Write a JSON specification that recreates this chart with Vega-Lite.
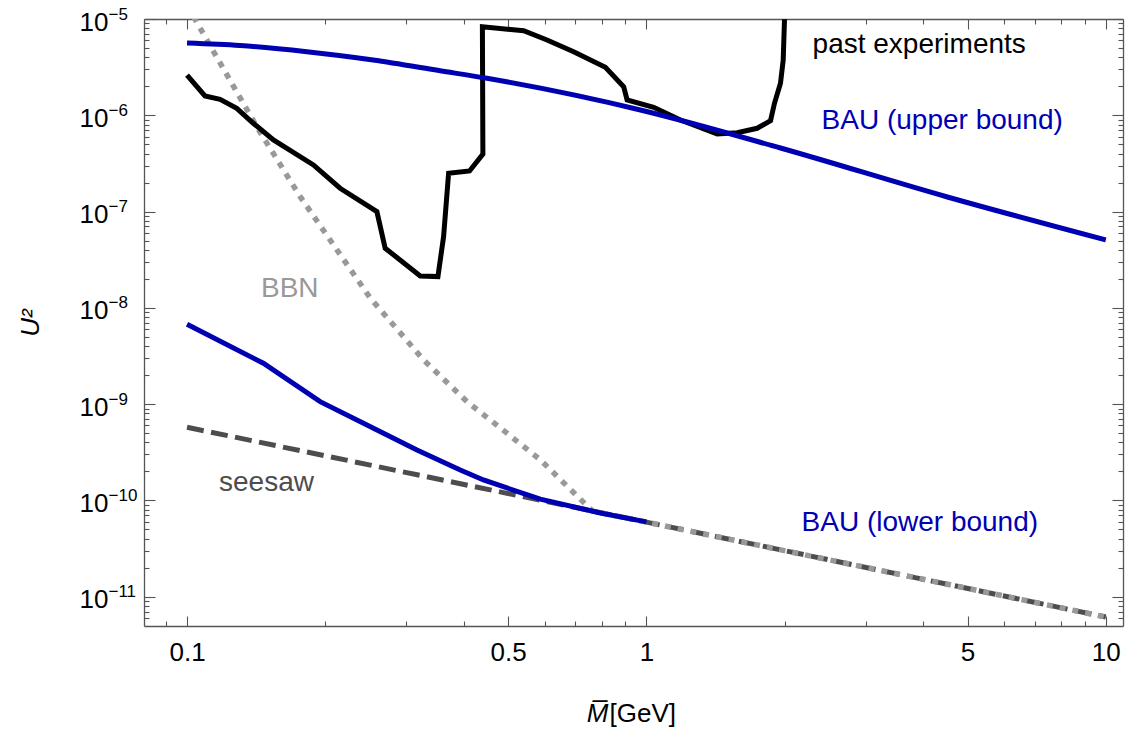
{
  "$schema": "https://vega.github.io/schema/vega-lite/v6.json",
  "width": 979,
  "height": 607,
  "autosize": "none",
  "padding": {"left": 144, "top": 19, "right": 2, "bottom": 105},
  "background": "white",
  "config": {
    "view": {"stroke": null},
    "font": "Liberation Sans",
    "axis": {
      "grid": false,
      "domainColor": "#555555",
      "tickColor": "#555555",
      "domainWidth": 1.3,
      "tickWidth": 1.1,
      "labelFont": "Liberation Sans",
      "titleFont": "Liberation Sans",
      "labelColor": "#000000",
      "titleColor": "#000000",
      "labelFontSize": 26,
      "titleFontSize": 26,
      "titleFontWeight": "normal"
    }
  },
  "datasets": {
    "curves": [
      {"series": "past", "i": 1, "M": 0.1, "U2": 2.62e-6},
      {"series": "past", "i": 2, "M": 0.1094, "U2": 1.587e-6},
      {"series": "past", "i": 3, "M": 0.118, "U2": 1.466e-6},
      {"series": "past", "i": 4, "M": 0.1283, "U2": 1.182e-6},
      {"series": "past", "i": 5, "M": 0.1394, "U2": 8.26e-7},
      {"series": "past", "i": 6, "M": 0.1542, "U2": 5.54e-7},
      {"series": "past", "i": 7, "M": 0.1884, "U2": 3.05e-7},
      {"series": "past", "i": 8, "M": 0.2154, "U2": 1.746e-7},
      {"series": "past", "i": 9, "M": 0.259, "U2": 9.98e-8},
      {"series": "past", "i": 10, "M": 0.27, "U2": 4.16e-8},
      {"series": "past", "i": 11, "M": 0.3219, "U2": 2.145e-8},
      {"series": "past", "i": 12, "M": 0.3517, "U2": 2.11e-8},
      {"series": "past", "i": 13, "M": 0.3618, "U2": 5.49e-8},
      {"series": "past", "i": 14, "M": 0.371, "U2": 2.5e-7},
      {"series": "past", "i": 15, "M": 0.4121, "U2": 2.64e-7},
      {"series": "past", "i": 16, "M": 0.4406, "U2": 3.96e-7},
      {"series": "past", "i": 17, "M": 0.4395, "U2": 8.3e-6},
      {"series": "past", "i": 18, "M": 0.5405, "U2": 7.56e-6},
      {"series": "past", "i": 19, "M": 0.6076, "U2": 6.05e-6},
      {"series": "past", "i": 20, "M": 0.6944, "U2": 4.57e-6},
      {"series": "past", "i": 21, "M": 0.8141, "U2": 3.15e-6},
      {"series": "past", "i": 22, "M": 0.8923, "U2": 1.98e-6},
      {"series": "past", "i": 23, "M": 0.9077, "U2": 1.442e-6},
      {"series": "past", "i": 24, "M": 1.037, "U2": 1.211e-6},
      {"series": "past", "i": 25, "M": 1.186, "U2": 8.94e-7},
      {"series": "past", "i": 26, "M": 1.426, "U2": 6.39e-7},
      {"series": "past", "i": 27, "M": 1.576, "U2": 6.6e-7},
      {"series": "past", "i": 28, "M": 1.742, "U2": 7.33e-7},
      {"series": "past", "i": 29, "M": 1.863, "U2": 8.79e-7},
      {"series": "past", "i": 30, "M": 1.9, "U2": 1.332e-6},
      {"series": "past", "i": 31, "M": 1.958, "U2": 2.15e-6},
      {"series": "past", "i": 32, "M": 1.985, "U2": 3.75e-6},
      {"series": "past", "i": 33, "M": 1.998, "U2": 9.93e-6},

      {"series": "upper", "i": 1, "M": 0.1, "U2": 5.62e-6},
      {"series": "upper", "i": 2, "M": 0.1304, "U2": 5.3e-6},
      {"series": "upper", "i": 3, "M": 0.1823, "U2": 4.57e-6},
      {"series": "upper", "i": 4, "M": 0.2542, "U2": 3.75e-6},
      {"series": "upper", "i": 5, "M": 0.3557, "U2": 2.9e-6},
      {"series": "upper", "i": 6, "M": 0.4497, "U2": 2.42e-6},
      {"series": "upper", "i": 7, "M": 0.9703, "U2": 1.135e-6},
      {"series": "upper", "i": 8, "M": 1.958, "U2": 4.575e-7},
      {"series": "upper", "i": 9, "M": 4.52, "U2": 1.417e-7},
      {"series": "upper", "i": 10, "M": 10, "U2": 5.07e-8},

      {"series": "lower", "i": 1, "M": 0.1, "U2": 6.76e-9},
      {"series": "lower", "i": 2, "M": 0.1466, "U2": 2.66e-9},
      {"series": "lower", "i": 3, "M": 0.1949, "U2": 1.061e-9},
      {"series": "lower", "i": 4, "M": 0.2546, "U2": 5.62e-10},
      {"series": "lower", "i": 5, "M": 0.3166, "U2": 3.34e-10},
      {"series": "lower", "i": 6, "M": 0.3934, "U2": 2.07e-10},
      {"series": "lower", "i": 7, "M": 0.4419, "U2": 1.63e-10},
      {"series": "lower", "i": 8, "M": 0.5875, "U2": 1.029e-10},
      {"series": "lower", "i": 9, "M": 0.794, "U2": 7.41e-11},
      {"series": "lower", "i": 10, "M": 1.0, "U2": 5.98e-11},

      {"series": "seesaw", "i": 1, "M": 0.1, "U2": 5.75e-10},
      {"series": "seesaw", "i": 2, "M": 1.0, "U2": 5.95e-11},
      {"series": "seesaw", "i": 3, "M": 10, "U2": 6.15e-12},

      {"series": "BBN", "i": 1, "M": 0.1, "U2": 1.38e-5},
      {"series": "BBN", "i": 2, "M": 0.1041, "U2": 9.93e-6},
      {"series": "BBN", "i": 3, "M": 0.1418, "U2": 7.61e-7},
      {"series": "BBN", "i": 4, "M": 0.1763, "U2": 1.428e-7},
      {"series": "BBN", "i": 5, "M": 0.2504, "U2": 1.267e-8},
      {"series": "BBN", "i": 6, "M": 0.3272, "U2": 2.88e-9},
      {"series": "BBN", "i": 7, "M": 0.4068, "U2": 1.062e-9},
      {"series": "BBN", "i": 8, "M": 0.4971, "U2": 4.99e-10},
      {"series": "BBN", "i": 9, "M": 0.5875, "U2": 2.64e-10},
      {"series": "BBN", "i": 10, "M": 0.763, "U2": 7.75e-11},
      {"series": "BBN", "i": 11, "M": 1.0, "U2": 5.95e-11},
      {"series": "BBN", "i": 12, "M": 10, "U2": 6.15e-12}
    ],
    "labels": [
      {"label": "past experiments", "series": "past", "M": 2.3, "U2": 4.435e-6},
      {"label": "BAU (upper bound)", "series": "upper", "M": 2.406, "U2": 7.2e-7},
      {"label": "BBN", "series": "BBN", "M": 0.1449, "U2": 1.282e-8},
      {"label": "seesaw", "series": "seesaw", "M": 0.1174, "U2": 1.256e-10},
      {"label": "BAU (lower bound)", "series": "lower", "M": 2.176, "U2": 4.82e-11}
    ]
  },
  "data": {"name": "curves"},
  "resolve": {"axis": {"x": "independent", "y": "independent"}},
  "layer": [
    {
      "data": {"name": "labels"},
      "mark": {"type": "point", "opacity": 0},
      "encoding": {
        "x": {"field": "M", "type": "quantitative",
          "scale": {"type": "log", "domain": [0.0806, 10.9], "nice": false},
          "axis": {"orient": "bottom", "values": [0.1, 0.5, 1, 5, 10], "labels": false, "tickSize": -10, "title": null}},
        "y": {"field": "U2", "type": "quantitative",
          "scale": {"type": "log", "domain": [4.96e-12, 1e-5], "nice": false},
          "axis": {"orient": "left", "values": [1e-11, 1e-10, 1e-9, 1e-8, 1e-7, 1e-6, 1e-5], "labels": false, "tickSize": -11, "title": null}}
      }
    },
    {
      "data": {"name": "labels"},
      "mark": {"type": "point", "opacity": 0},
      "encoding": {
        "x": {"field": "M", "type": "quantitative",
          "scale": {"type": "log", "domain": [0.0806, 10.9], "nice": false},
          "axis": {"orient": "bottom", "values": [0.09, 0.2, 0.3, 0.4, 0.6, 0.7, 0.8, 0.9, 2, 3, 4, 6, 7, 8, 9], "labels": false, "domain": false, "tickSize": -5, "title": null}},
        "y": {"field": "U2", "type": "quantitative",
          "scale": {"type": "log", "domain": [4.96e-12, 1e-5], "nice": false},
          "axis": {"orient": "left", "values": [6e-12, 7e-12, 8e-12, 9e-12, 2e-11, 3e-11, 4e-11, 5e-11, 6e-11, 7e-11, 8e-11, 9e-11, 2e-10, 3e-10, 4e-10, 5e-10, 6e-10, 7e-10, 8e-10, 9e-10, 2e-9, 3e-9, 4e-9, 5e-9, 6e-9, 7e-9, 8e-9, 9e-9, 2e-8, 3e-8, 4e-8, 5e-8, 6e-8, 7e-8, 8e-8, 9e-8, 2e-7, 3e-7, 4e-7, 5e-7, 6e-7, 7e-7, 8e-7, 9e-7, 2e-6, 3e-6, 4e-6, 5e-6, 6e-6, 7e-6, 8e-6, 9e-6], "labels": false, "domain": false, "tickSize": -5, "title": null}}
      }
    },
    {
      "data": {"name": "labels"},
      "mark": {"type": "point", "opacity": 0},
      "encoding": {
        "x": {"field": "M", "type": "quantitative",
          "scale": {"type": "log", "domain": [0.0806, 10.9], "nice": false},
          "axis": {"orient": "top", "values": [0.1, 0.5, 1, 5, 10], "labels": false, "tickSize": -10, "title": null}},
        "y": {"field": "U2", "type": "quantitative",
          "scale": {"type": "log", "domain": [4.96e-12, 1e-5], "nice": false},
          "axis": {"orient": "right", "values": [1e-11, 1e-10, 1e-9, 1e-8, 1e-7, 1e-6, 1e-5], "labels": false, "tickSize": -11, "title": null}}
      }
    },
    {
      "data": {"name": "labels"},
      "mark": {"type": "point", "opacity": 0},
      "encoding": {
        "x": {"field": "M", "type": "quantitative",
          "scale": {"type": "log", "domain": [0.0806, 10.9], "nice": false},
          "axis": {"orient": "top", "values": [0.09, 0.2, 0.3, 0.4, 0.6, 0.7, 0.8, 0.9, 2, 3, 4, 6, 7, 8, 9], "labels": false, "domain": false, "tickSize": -5, "title": null}},
        "y": {"field": "U2", "type": "quantitative",
          "scale": {"type": "log", "domain": [4.96e-12, 1e-5], "nice": false},
          "axis": {"orient": "right", "values": [6e-12, 7e-12, 8e-12, 9e-12, 2e-11, 3e-11, 4e-11, 5e-11, 6e-11, 7e-11, 8e-11, 9e-11, 2e-10, 3e-10, 4e-10, 5e-10, 6e-10, 7e-10, 8e-10, 9e-10, 2e-9, 3e-9, 4e-9, 5e-9, 6e-9, 7e-9, 8e-9, 9e-9, 2e-8, 3e-8, 4e-8, 5e-8, 6e-8, 7e-8, 8e-8, 9e-8, 2e-7, 3e-7, 4e-7, 5e-7, 6e-7, 7e-7, 8e-7, 9e-7, 2e-6, 3e-6, 4e-6, 5e-6, 6e-6, 7e-6, 8e-6, 9e-6], "labels": false, "domain": false, "tickSize": -5, "title": null}}
      }
    },
    {
      "data": {"name": "labels"},
      "mark": {"type": "point", "opacity": 0},
      "encoding": {
        "x": {"field": "M", "type": "quantitative",
          "scale": {"type": "log", "domain": [0.0806, 10.9], "nice": false},
          "axis": {"orient": "bottom", "values": [0.1, 0.5, 1, 5, 10], "labelExpr": "format(datum.value, '~g')", "ticks": false, "domain": false, "labelPadding": 13,
            "title": "M̅", "titleFontStyle": "italic", "titleAlign": "right", "titleX": 464, "titleY": 95, "titleBaseline": "alphabetic"}},
        "y": {"field": "U2", "type": "quantitative",
          "scale": {"type": "log", "domain": [4.96e-12, 1e-5], "nice": false},
          "axis": {"orient": "left", "values": [1e-11, 1e-10, 1e-9, 1e-8, 1e-7, 1e-6, 1e-5], "labelExpr": "'10'", "ticks": false, "domain": false, "labelPadding": 36, "labelAlign": "right", "labelBaseline": "middle", "labelOffset": 3,
            "title": "U²", "titleFontStyle": "italic", "titlePadding": 36}}
      }
    },
    {
      "data": {"name": "labels"},
      "mark": {"type": "point", "opacity": 0},
      "encoding": {
        "x": {"field": "M", "type": "quantitative",
          "scale": {"type": "log", "domain": [0.0806, 10.9], "nice": false},
          "axis": {"orient": "bottom", "values": [1], "labels": false, "ticks": false, "domain": false,
            "title": "[GeV]", "titleAlign": "left", "titleX": 465, "titleY": 95, "titleBaseline": "alphabetic"}},
        "y": {"field": "U2", "type": "quantitative",
          "scale": {"type": "log", "domain": [4.96e-12, 1e-5], "nice": false},
          "axis": {"orient": "left", "values": [1e-11, 1e-10, 1e-9, 1e-8, 1e-7, 1e-6, 1e-5], "labelExpr": "'−' + (-round(log(datum.value) / LN10))", "ticks": false, "domain": false, "labelPadding": 36, "labelAlign": "left", "labelBaseline": "middle", "labelOffset": -5, "labelFontSize": 17, "title": null}}
      }
    },
    {
      "transform": [{"filter": "datum.series == 'seesaw'"}],
      "mark": {"type": "line", "color": "#4d4d4d", "strokeWidth": 5, "strokeDash": [17, 7.5], "clip": true},
      "encoding": {
        "x": {"field": "M", "type": "quantitative", "scale": {"type": "log", "domain": [0.0806, 10.9], "nice": false}, "axis": null},
        "y": {"field": "U2", "type": "quantitative", "scale": {"type": "log", "domain": [4.96e-12, 1e-5], "nice": false}, "axis": null},
        "order": {"field": "i", "type": "quantitative"}
      }
    },
    {
      "transform": [{"filter": "datum.series == 'BBN'"}],
      "mark": {"type": "line", "color": "#999999", "strokeWidth": 5.5, "strokeDash": [6, 7], "clip": true},
      "encoding": {
        "x": {"field": "M", "type": "quantitative", "scale": {"type": "log", "domain": [0.0806, 10.9], "nice": false}, "axis": null},
        "y": {"field": "U2", "type": "quantitative", "scale": {"type": "log", "domain": [4.96e-12, 1e-5], "nice": false}, "axis": null},
        "order": {"field": "i", "type": "quantitative"}
      }
    },
    {
      "transform": [{"filter": "datum.series == 'past'"}],
      "mark": {"type": "line", "color": "#000000", "strokeWidth": 5, "strokeJoin": "miter", "clip": true},
      "encoding": {
        "x": {"field": "M", "type": "quantitative", "scale": {"type": "log", "domain": [0.0806, 10.9], "nice": false}, "axis": null},
        "y": {"field": "U2", "type": "quantitative", "scale": {"type": "log", "domain": [4.96e-12, 1e-5], "nice": false}, "axis": null},
        "order": {"field": "i", "type": "quantitative"}
      }
    },
    {
      "transform": [{"filter": "datum.series == 'upper'"}],
      "mark": {"type": "line", "color": "#0000b3", "strokeWidth": 5, "interpolate": "monotone", "clip": true},
      "encoding": {
        "x": {"field": "M", "type": "quantitative", "scale": {"type": "log", "domain": [0.0806, 10.9], "nice": false}, "axis": null},
        "y": {"field": "U2", "type": "quantitative", "scale": {"type": "log", "domain": [4.96e-12, 1e-5], "nice": false}, "axis": null},
        "order": {"field": "i", "type": "quantitative"}
      }
    },
    {
      "transform": [{"filter": "datum.series == 'lower'"}],
      "mark": {"type": "line", "color": "#0000b3", "strokeWidth": 5, "clip": true},
      "encoding": {
        "x": {"field": "M", "type": "quantitative", "scale": {"type": "log", "domain": [0.0806, 10.9], "nice": false}, "axis": null},
        "y": {"field": "U2", "type": "quantitative", "scale": {"type": "log", "domain": [4.96e-12, 1e-5], "nice": false}, "axis": null},
        "order": {"field": "i", "type": "quantitative"}
      }
    },
    {
      "data": {"name": "labels"},
      "mark": {"type": "text", "align": "left", "baseline": "alphabetic", "fontSize": 28, "font": "Liberation Sans"},
      "encoding": {
        "x": {"field": "M", "type": "quantitative", "scale": {"type": "log", "domain": [0.0806, 10.9], "nice": false}, "axis": null},
        "y": {"field": "U2", "type": "quantitative", "scale": {"type": "log", "domain": [4.96e-12, 1e-5], "nice": false}, "axis": null},
        "text": {"field": "label"},
        "color": {"field": "series", "type": "nominal",
          "scale": {"domain": ["past", "upper", "BBN", "seesaw", "lower"], "range": ["#000000", "#0000b3", "#999999", "#4d4d4d", "#0000b3"]},
          "legend": null}
      }
    }
  ]
}
